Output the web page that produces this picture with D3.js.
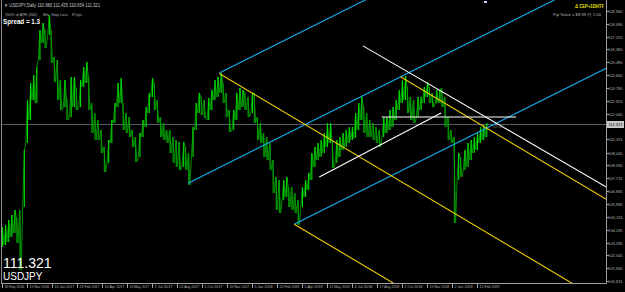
<!DOCTYPE html>
<html><head><meta charset="utf-8">
<script src="https://cdn.jsdelivr.net/npm/d3@7"></script>
<style>html,body{margin:0;padding:0;background:#000;overflow:hidden}</style>
</head><body>
<svg id="c" width="625" height="292"></svg>
<script>
// ---------- data ----------
const symbol = "USDJPY";
const lastPrice = 111.321;
const headerText = "\u25BC USDJPY,Daily  110.980 111.435 110.654 111.321";
const highs = [104.44,104.58,104.91,105.25,105.58,105.04,105.58,109.61,112.96,114.11,
114.64,115.18,117.66,118.13,117.66,118.67,117.66,115.85,115.65,114.31,
114.31,113.10,114.51,114.51,113.77,114.31,115.18,115.52,114.51,112.76,
112.09,111.62,110.95,109.81,110.28,111.62,112.76,114.11,114.44,112.76,
112.09,111.82,110.95,110.48,110.75,111.62,112.49,113.44,114.44,114.11,
112.96,111.82,111.42,110.95,110.95,110.48,110.28,110.15,110.15,109.81,
109.41,111.15,112.76,113.44,113.17,112.96,113.10,113.64,114.31,114.51,
114.78,114.11,113.44,112.29,112.29,113.44,113.77,113.64,113.44,113.17,
113.44,113.44,111.82,111.42,110.75,110.48,110.08,108.94,107.80,107.59,
107.59,107.80,107.12,107.12,106.72,106.25,107.12,107.59,108.07,109.41,
109.81,110.08,110.28,110.75,111.42,111.42,110.28,110.28,110.48,110.75,
110.95,111.15,111.15,112.09,112.76,113.17,112.49,112.09,111.62,111.42,
111.15,110.95,111.82,111.82,112.29,112.49,112.96,113.64,114.31,114.58,
113.84,113.17,112.96,113.17,113.17,113.84,114.17,113.84,113.44,113.64,
113.64,113.77,113.17,111.82,110.95,110.48,109.41,109.14,109.61,110.08,
110.28,110.48,110.75,111.15,111.29,111.42];
const lows = [103.10,103.23,103.43,103.77,104.04,103.37,101.55,105.78,110.08,111.62,
112.96,112.76,115.65,116.79,116.46,117.33,115.45,114.17,112.96,112.29,
112.49,111.62,111.82,112.49,112.29,112.49,113.84,114.11,112.29,110.75,
110.28,110.28,109.41,108.13,108.74,110.08,111.42,112.49,112.76,110.95,
110.75,110.48,109.81,108.80,109.14,110.48,111.15,112.09,113.17,112.29,
111.42,110.48,110.28,110.08,109.41,108.74,108.47,108.27,108.47,108.27,
107.26,109.14,110.95,112.09,111.96,111.76,111.62,112.29,112.96,113.17,
113.44,112.76,111.82,110.82,110.95,111.62,112.29,112.49,112.29,111.82,
112.09,111.42,110.28,110.08,109.14,108.94,108.27,106.72,105.58,105.38,
106.25,106.45,105.78,105.58,105.38,104.58,105.78,106.45,106.92,107.59,
108.47,108.94,109.14,109.41,109.81,110.08,108.40,108.74,109.14,109.61,
109.81,110.08,110.28,110.42,110.95,111.62,110.75,110.48,110.48,110.28,
110.08,109.81,110.48,110.75,110.95,111.15,111.62,112.29,112.76,112.96,
112.09,111.62,111.42,111.82,112.29,112.76,113.17,112.76,112.49,112.76,
112.76,112.49,111.15,110.28,110.08,104.71,107.59,107.80,108.27,108.47,
108.94,109.41,109.61,110.08,110.28,110.48];
const dateLabels = ["30 Sep 2016","15 Nov 2016","10 Jan 2017","23 Feb 2017","10 Apr 2017","24 May 2017","7 Jul 2017","22 Aug 2017","5 Oct 2017","20 Nov 2017","5 Jan 2018","20 Feb 2018","5 Apr 2018","21 May 2018","4 Jul 2018","17 Aug 2018","2 Oct 2018","15 Nov 2018","2 Jan 2019","15 Feb 2019"];
const priceTicks = [118.940,118.090,117.215,116.365,115.490,114.640,113.790,112.915,112.040,111.190,110.315,109.440,108.590,107.715,106.865,105.990,105.115,104.265,103.390,102.540,101.665,100.815];
// trend lines: start (point index, price) -> end (point index, price)
const lineColors = ["#10b0f0","#10b0f0","#10b0f0","#f0cc00","#f0cc00","#f0cc00","#ffffff","#ffffff","#ffffff"];
const lineX1 = [70, 60, 94, 70, 128, 94, 116, 102, 122];
const lineP1 = [114.78, 107.38, 104.63, 114.75, 114.52, 104.63, 116.60, 107.80, 111.82];
const lineX2 = [200, 200, 200, 200, 200, 200, 200, 141, 165];
const lineP2 = [128.42, 122.07, 115.75, 98.53, 105.53, 91.40, 106.38, 112.09, 111.82];

// ---------- layout ----------
const svg = d3.select("#c");
const plot = {left:1, right:606, top:0, bottom:283};
const x = d3.scaleLinear().domain([0, 193.6]).range([0.5, 605.5]);
const y = d3.scaleLinear().domain([100.815, 118.94]).range([281, 11]);
const FONT = "'Liberation Sans', Arial, sans-serif";

svg.append("rect").attr("width",625).attr("height",292).attr("fill","#000");
svg.append("defs").append("clipPath").attr("id","pc").append("rect")
  .attr("x",plot.left).attr("y",plot.top).attr("width",plot.right-plot.left).attr("height",plot.bottom-plot.top);

// current price line
svg.append("line").attr("x1",plot.left).attr("x2",plot.right)
  .attr("y1",Math.round(y(lastPrice))+0.5).attr("y2",Math.round(y(lastPrice))+0.5)
  .attr("stroke","#52606e").attr("stroke-width",1);

// price bars
const bars = svg.append("g").attr("clip-path","url(#pc)");
const ups = highs.map((h,i)=> i===0 || (h+lows[i]) >= (highs[i-1]+lows[i-1]));
const zz = [];
highs.forEach((h,i)=>{
  const a = x(i)+0.3, b = x(i)+2.0;
  if (ups[i]) { zz.push([a, y(lows[i])]); zz.push([b, y(h)]); }
  else { zz.push([a, y(h)]); zz.push([b, y(lows[i])]); }
});
bars.append("path").attr("d", d3.line()(zz)).attr("fill","none")
  .attr("stroke","#008c00").attr("stroke-width",1);
highs.forEach((h,i)=>{
  bars.append("rect").attr("x",x(i)+ (ups[i]?1.4:0.2)).attr("width",1.1)
    .attr("y",y(h)).attr("height",Math.max(1,y(lows[i])-y(h)))
    .attr("fill", ups[i] ? "#00e000" : "#00a000");
});

// trend lines
const lg = svg.append("g").attr("clip-path","url(#pc)");
lineColors.forEach((c,k)=>{
  lg.append("line").attr("x1",x(lineX1[k])).attr("y1",y(lineP1[k]))
    .attr("x2",x(lineX2[k])).attr("y2",y(lineP2[k]))
    .attr("stroke",c).attr("stroke-width",1.1);
});

// frame
svg.append("line").attr("x1",1.5).attr("x2",1.5).attr("y1",0).attr("y2",plot.bottom).attr("stroke","#8c8c8c");
svg.append("line").attr("x1",plot.right+0.5).attr("x2",plot.right+0.5).attr("y1",0).attr("y2",plot.bottom+0.5).attr("stroke","#a0a0a0");
svg.append("line").attr("x1",1).attr("x2",plot.right+0.5).attr("y1",plot.bottom+0.5).attr("y2",plot.bottom+0.5).attr("stroke","#a0a0a0");

// right axis
const ly = y(lastPrice);
const ya = svg.append("g");
priceTicks.forEach(v=>{
  const yy = Math.round(y(v))+0.5;
  ya.append("line").attr("x1",plot.right).attr("x2",plot.right+3).attr("y1",yy).attr("y2",yy).attr("stroke","#a0a0a0");
  if (Math.abs(yy-ly) > 6)
    ya.append("text").attr("x",608.5).attr("y",yy+1.6).attr("fill","#b4b4b4")
      .attr("font-family",FONT).attr("font-size",4.4).attr("textLength",14).attr("lengthAdjust","spacingAndGlyphs")
      .text(v.toFixed(3));
});
// last price marker
svg.append("rect").attr("x",607).attr("y",ly-3.5).attr("width",17).attr("height",7).attr("fill","#c8c8c8");
svg.append("text").attr("x",608.5).attr("y",ly+1.6).attr("fill","#000").attr("font-family",FONT)
  .attr("font-size",4.4).attr("textLength",14).attr("lengthAdjust","spacingAndGlyphs").text(lastPrice.toFixed(3));
svg.append("text").attr("x",x(155)+8).attr("y",ly+3.5).attr("fill","#808080").attr("font-family",FONT)
  .attr("font-size",3.5).attr("textLength",11).attr("lengthAdjust","spacingAndGlyphs").text(lastPrice.toFixed(3));

// bottom axis
const xa = svg.append("g");
dateLabels.forEach((d,j)=>{
  const xx = Math.round(x(0.5 + 8*j))+0.5;
  xa.append("line").attr("x1",xx).attr("x2",xx).attr("y1",plot.bottom).attr("y2",plot.bottom+5).attr("stroke","#a0a0a0");
  xa.append("text").attr("x",xx+2).attr("y",288).attr("fill","#b4b4b4").attr("font-family",FONT)
    .attr("font-size",3.9).attr("textLength",d.length*1.8).attr("lengthAdjust","spacingAndGlyphs").text(d);
});

// header texts
const t = (txt,xx,yy,size,col,len,weight)=>{
  const e = svg.append("text").attr("x",xx).attr("y",yy).attr("fill",col).attr("font-family",FONT)
    .attr("font-size",size).text(txt);
  if (len) e.attr("textLength",len).attr("lengthAdjust","spacingAndGlyphs");
  if (weight) e.attr("font-weight",weight);
  return e;
};
t(headerText, 4, 7, 4.5, "#c8c8c8", 96);
t("150% of ATR (200)", 5, 16, 4.2, "#b4b4b4", 32);
t("Min. Stop Loss", 43, 16, 4.2, "#b4b4b4", 25);
t("87 pips", 72, 16, 4.2, "#b4b4b4", 10);
t("Spread = 1.3", 3, 24, 7.5, "#ffffff", 37, "bold");
t("\u0394 CEP+1DHTF", 575, 8, 4.5, "#e6e600", 29, "bold");
t("Pip Value = $8.99 @ 1.00", 553, 16, 4.2, "#b4b4b4", 48);
t(lastPrice.toFixed(3), 3, 268, 14, "#ffffff");
t(symbol, 3, 280, 10, "#ffffff");
svg.append("rect").attr("x",484).attr("y",1).attr("width",3).attr("height",2).attr("fill","#c8c8ff");
</script>
</body></html>
